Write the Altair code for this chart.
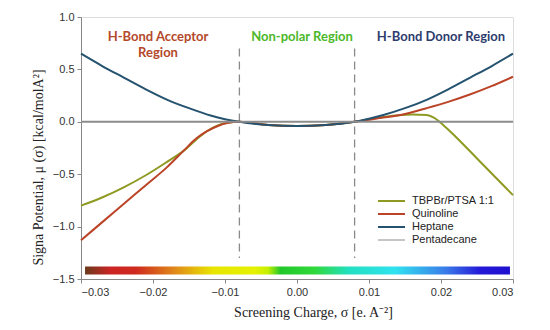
import altair as alt
import pandas as pd

# ---- data ----
series_names = ["TBPBr/PTSA 1:1", "Quinoline", "Heptane", "Pentadecane"]
series_colors = ["#8e9a22", "#bb4428", "#24526f", "#8c8c8c"]
series_widths = [2, 2, 2, 1]

tbp_sigma = [-0.030, -0.027, -0.024, -0.021, -0.018, -0.0158, -0.014, -0.0125, -0.011, -0.0097, -0.008,
             -0.004, 0.000, 0.004, 0.008, 0.010, 0.012, 0.014, 0.016, 0.018, 0.019, 0.0203, 0.022,
             0.025, 0.028, 0.030]
tbp_mu = [-0.80, -0.72, -0.623, -0.51, -0.38, -0.28, -0.17, -0.09, -0.035, -0.01, 0.0,
          -0.03, -0.04, -0.03, 0.0, 0.025, 0.045, 0.062, 0.07, 0.065, 0.04, -0.03, -0.14,
          -0.35, -0.56, -0.70]

qui_sigma = [-0.030, -0.027, -0.024, -0.021, -0.018, -0.0158, -0.014, -0.0125, -0.011, -0.0097, -0.008,
             -0.004, 0.000, 0.004, 0.008, 0.010, 0.012, 0.015, 0.018, 0.021, 0.024, 0.027, 0.030]
qui_mu = [-1.13, -0.955, -0.78, -0.605, -0.43, -0.28, -0.16, -0.09, -0.04, -0.012, 0.0,
          -0.03, -0.04, -0.03, 0.0, 0.02, 0.04, 0.075, 0.13, 0.19, 0.26, 0.34, 0.43]

hep_sigma = [-0.030, -0.027, -0.024, -0.021, -0.018, -0.015, -0.012, -0.010, -0.008,
             -0.004, 0.000, 0.004, 0.008, 0.010, 0.012, 0.015, 0.018, 0.021, 0.024, 0.027, 0.030]
hep_mu = [0.65, 0.53, 0.42, 0.31, 0.21, 0.13, 0.06, 0.025, 0.0,
          -0.03, -0.04, -0.03, 0.0, 0.03, 0.065, 0.13, 0.21, 0.31, 0.42, 0.53, 0.65]

pen_sigma = [-0.030, 0.030]
pen_mu = [0.0, 0.0]

region_labels = ["H-Bond Acceptor", "Region", "Non-polar Region", "H-Bond Donor Region"]
region_sigma = [-0.0193, -0.0193, 0.0007, 0.0200]
region_mu = [0.81, 0.66, 0.81, 0.81]
region_colors = ["#b4482a", "#b4482a", "#4cb82a", "#2e3d6e"]

boundary_sigma = [-0.008, 0.008]
boundary_top = [0.70, 0.70]
boundary_bottom = [-1.30, -1.30]

bar_sigma = [-0.02944]
bar_sigma2 = [0.02958]
bar_mu = [-1.381]
bar_mu2 = [-1.457]
bar_stop_offsets = [0.0, 0.06, 0.12, 0.21, 0.30, 0.40, 0.43, 0.46, 0.54, 0.62, 0.73, 0.85, 0.93, 1.0]
bar_stop_colors = ["#6a3a1c", "#cc2424", "#cf2a1e", "#e0881a", "#e8e400", "#e4f200", "#c6f000",
                   "#22c82a", "#30d83a", "#22e0c0", "#30e2f0", "#3a7ae8", "#2418d8", "#2010d0"]

x_ticks = [-0.03, -0.02, -0.01, 0.0, 0.01, 0.02, 0.03]
y_ticks = [-1.5, -1.0, -0.5, 0.0, 0.5, 1.0]

# ---- build tables ----
rows = []
for name, sig, mu in [(series_names[0], tbp_sigma, tbp_mu),
                      (series_names[1], qui_sigma, qui_mu),
                      (series_names[2], hep_sigma, hep_mu),
                      (series_names[3], pen_sigma, pen_mu)]:
    for i, (s, m) in enumerate(zip(sig, mu)):
        rows.append({"series": name, "sigma": s, "mu": m, "order": i})
df = pd.DataFrame(rows)

xscale = alt.Scale(domain=[-0.03, 0.03], nice=False, zero=False)
yscale = alt.Scale(domain=[-1.5, 1.0], nice=False, zero=False)

xaxis = alt.Axis(values=x_ticks, format=".2f", title="Screening Charge, σ [e. A⁻²]",
                 titleFont="Liberation Serif", titleFontSize=14, titleFontWeight="normal",
                 titleColor="#222", titleX=232, titleY=33, titleBaseline="middle",
                 labelFont="Liberation Sans", labelFontSize=11, labelColor="#333",
                 labelPadding=3, tickSize=4, tickColor="#888", domainColor="#888", grid=False)
yaxis = alt.Axis(values=y_ticks, format=".1f", title="Signa Potential, μ (σ) [kcal/molA²]",
                 titleFont="Liberation Serif", titleFontSize=14, titleFontWeight="normal",
                 titleColor="#222", titleX=-43, titleY=150, titleBaseline="middle",
                 labelFont="Liberation Sans", labelFontSize=11, labelColor="#333",
                 labelPadding=3, tickSize=4, tickColor="#888", domainColor="#888", grid=False)

lines = alt.Chart(df).mark_line(interpolate="monotone").encode(
    x=alt.X("sigma:Q", scale=xscale, axis=xaxis),
    y=alt.Y("mu:Q", scale=yscale, axis=yaxis),
    color=alt.Color("series:N", scale=alt.Scale(domain=series_names, range=series_colors), legend=None),
    strokeWidth=alt.StrokeWidth("series:N", scale=alt.Scale(domain=series_names, range=series_widths),
                                legend=None),
    order="order:Q",
    detail="series:N",
)

bdf = pd.DataFrame({"sigma": boundary_sigma, "top": boundary_top, "bottom": boundary_bottom})
boundaries = alt.Chart(bdf).mark_rule(color="#8a8a8a", strokeDash=[8, 5], strokeWidth=1.3).encode(
    x="sigma:Q", y="top:Q", y2="bottom:Q")

tdf = pd.DataFrame({"label": region_labels, "sigma": region_sigma, "mu": region_mu, "color": region_colors})
texts = alt.Chart(tdf).mark_text(font="Lato", fontWeight="bold", fontSize=13, baseline="middle",
                                 align="center").encode(
    x="sigma:Q", y="mu:Q", text="label:N", color=alt.Color("color:N", scale=None))

cdf = pd.DataFrame({"x1": bar_sigma, "x2": bar_sigma2, "y1": bar_mu, "y2": bar_mu2})
gradient = alt.LinearGradient(gradient="linear", x1=0, x2=1, y1=0, y2=0,
                              stops=[alt.GradientStop(offset=o, color=c)
                                     for o, c in zip(bar_stop_offsets, bar_stop_colors)])
colorbar = alt.Chart(cdf).mark_rect(color=gradient).encode(
    x="x1:Q", x2="x2:Q", y="y1:Q", y2="y2:Q")

# ---- hand-built legend (pixel positions inside the plot area) ----
legend_layers = []
for i, (name, col, w) in enumerate(zip(series_names, series_colors, series_widths)):
    ldf = pd.DataFrame({"label": [name]})
    ypix = 184 + 13 * i
    legend_layers.append(alt.Chart(ldf).mark_rule(color=col, strokeWidth=w).encode(
        x=alt.value(297), x2=alt.value(324), y=alt.value(ypix)))
    legend_layers.append(alt.Chart(ldf).mark_text(align="left", baseline="middle", font="Liberation Sans",
                                                   fontSize=11, color="#222").encode(
        x=alt.value(331), y=alt.value(ypix), text="label:N"))

chart = alt.layer(colorbar, boundaries, lines, texts, *legend_layers).properties(
    width=432, height=262,
    padding={"left": 73, "top": 9, "right": 29, "bottom": 43},
    autosize=alt.AutoSizeParams(type="none"),
).configure_view(stroke="#999", strokeWidth=1).configure(background="white")

chart.save("out.html", embed_options={"renderer": "svg", "actions": False})
